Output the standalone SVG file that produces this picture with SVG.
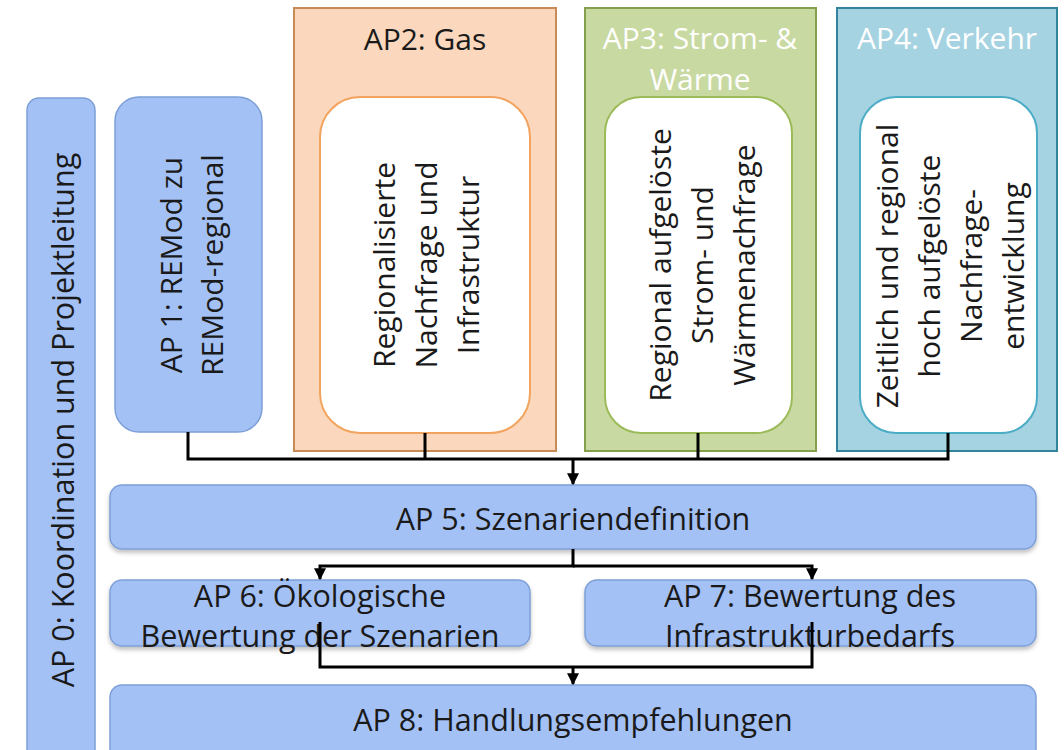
<svg xmlns="http://www.w3.org/2000/svg" width="1064" height="750" viewBox="0 0 1064 750">
<style>
.t{font-family:"Open Sans","Liberation Sans",sans-serif;font-size:30.5px;fill:#1a1a1a;text-anchor:middle;dominant-baseline:central}
.tv{font-size:30px}
.w{fill:#ffffff}
.blue{fill:#a4c1f5;stroke:#7d9fd8;stroke-width:1.5}
.conn{fill:none;stroke:#000;stroke-width:3}
</style>
<defs>
<marker id="ah" viewBox="0 0 10 10" refX="9" refY="5" markerWidth="4" markerHeight="4" orient="auto" markerUnits="strokeWidth">
<path d="M0,0 L10,5 L0,10 z" fill="#000"/>
</marker>
<filter id="sh" x="-5%" y="-20%" width="110%" height="150%">
<feDropShadow dx="0" dy="3" stdDeviation="2" flood-color="#000" flood-opacity="0.25"/>
</filter>
</defs>
<rect width="1064" height="750" fill="#fff"/>
<g id="ap0">
<rect class="blue" x="27" y="98" width="68" height="680" rx="12"/>
<text class="t" transform="translate(62,420) rotate(-90)">AP 0: Koordination und Projektleitung</text>
</g>
<g id="ap1">
<rect class="blue" x="115" y="97" width="147" height="335" rx="24"/>
<text class="t tv" transform="translate(170,265) rotate(-90)">AP 1: REMod zu</text>
<text class="t tv" transform="translate(211,265) rotate(-90)">REMod-regional</text>
</g>
<g id="ap2">
<rect x="294" y="8" width="262" height="443" fill="#fbd8bd" stroke="#c98b55" stroke-width="2"/>
<text class="t tv" x="425" y="38">AP2: Gas</text>
<rect x="320" y="97" width="210" height="336" rx="40" fill="#fff" stroke="#f2a35e" stroke-width="2"/>
<text class="t tv" transform="translate(383,265) rotate(-90)">Regionalisierte</text>
<text class="t tv" transform="translate(425,265) rotate(-90)">Nachfrage und</text>
<text class="t tv" transform="translate(467,265) rotate(-90)">Infrastruktur</text>
</g>
<g id="ap3">
<rect x="585" y="8" width="231" height="443" fill="#c9d9a2" stroke="#84a04c" stroke-width="2"/>
<text class="t tv w" x="700" y="37">AP3: Strom- &amp;</text>
<text class="t tv w" x="700" y="78">Wärme</text>
<rect x="605" y="97" width="187" height="336" rx="36" fill="#fff" stroke="#9bbb59" stroke-width="2"/>
<text class="t tv" transform="translate(659,265) rotate(-90)">Regional aufgelöste</text>
<text class="t tv" transform="translate(701,265) rotate(-90)">Strom- und</text>
<text class="t tv" transform="translate(743,265) rotate(-90)">Wärmenachfrage</text>
</g>
<g id="ap4">
<rect x="837" y="8" width="220" height="443" fill="#a6d3e1" stroke="#31849b" stroke-width="2"/>
<text class="t tv w" x="947" y="37">AP4: Verkehr</text>
<rect x="860" y="97" width="177" height="336" rx="36" fill="#fff" stroke="#4bacc6" stroke-width="2"/>
<text class="t tv" transform="translate(886,266) rotate(-90)">Zeitlich und regional</text>
<text class="t tv" transform="translate(928,266) rotate(-90)">hoch aufgelöste</text>
<text class="t tv" transform="translate(970,266) rotate(-90)">Nachfrage-</text>
<text class="t tv" transform="translate(1012,266) rotate(-90)">entwicklung</text>
</g>
<g id="ap5">
<rect class="blue" x="110" y="485" width="926" height="64" rx="12" filter="url(#sh)"/>
<text class="t" x="573" y="518">AP 5: Szenariendefinition</text>
</g>
<g id="ap6">
<rect class="blue" x="110" y="580" width="420" height="66" rx="12" filter="url(#sh)"/>
<text class="t" x="320" y="595">AP 6: Ökologische</text>
<text class="t" x="320" y="635">Bewertung der Szenarien</text>
</g>
<g id="ap7">
<rect class="blue" x="585" y="580" width="451" height="66" rx="12" filter="url(#sh)"/>
<text class="t" x="810" y="595">AP 7: Bewertung des</text>
<text class="t" x="810" y="635">Infrastrukturbedarfs</text>
</g>
<g id="ap8">
<rect class="blue" x="110" y="685" width="926" height="90" rx="12"/>
<text class="t" x="573" y="719">AP 8: Handlungsempfehlungen</text>
</g>
<g id="connectors">
<path class="conn" d="M188,432 V459 H948 V433 M425,433 V459 M698,433 V459"/>
<path class="conn" d="M573,459 V484" marker-end="url(#ah)"/>
<path class="conn" d="M573,549 V566 H320 V579" marker-end="url(#ah)"/>
<path class="conn" d="M573,566 H812 V579" marker-end="url(#ah)"/>
<path class="conn" d="M320,622 V667 H812 V622"/>
<path class="conn" d="M573,667 V684" marker-end="url(#ah)"/>
</g>
</svg>
